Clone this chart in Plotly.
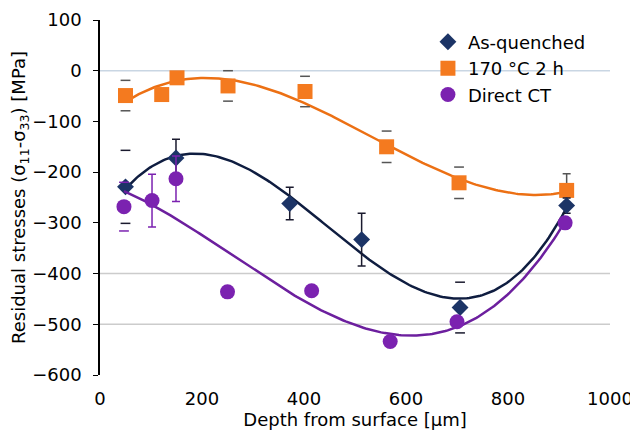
import numpy as np
import plotly.graph_objects as go

# ---- data ----
x_aq = [50, 149, 372, 513, 706, 915]
y_aq = [-229, -172, -262, -333, -467, -266]
e_aq = [72, 37, 32, 52, 50, 15]
stem_aq = [False, True, True, True, False, True]

x_ht = [50, 121, 151, 251, 402, 562, 704, 915]
y_ht = [-49, -47, -14, -30, -41, -150, -221, -236]
e_ht = [30, 0, 0, 30, 30, 31, 31, 33]
stem_ht = [False, False, False, False, False, False, False, True]

x_ct = [47, 102, 149, 250, 415, 569, 700, 912]
y_ct = [-268, -256, -213, -436, -434, -534, -495, -300]
e_ct = [48, 52, 45, 0, 0, 0, 0, 10]
stem_ct = [False, True, True, False, False, False, False, True]

names = ["As-quenched", "170 °C 2 h", "Direct CT"]
grid_y = [0, -400, -500]

FONT = "DejaVu Sans"
C_AQ, L_AQ = "#1c3466", "#0f1d40"
C_HT, L_HT = "#f47a1f", "#ec7014"
C_CT, L_CT = "#7b22b0", "#6c1f9e"

fig = go.Figure()

def add_series(x, y, e, stem, name, mcol, lcol, symbol, size, ecol, rank):
    x = np.array(x, float); y = np.array(y, float); e = np.array(e, float)
    stem = np.array(stem)
    # trend line (cubic polynomial fit)
    p = np.polyfit(x, y, 3)
    xs = np.linspace(x.min(), x.max(), 200)
    fig.add_trace(go.Scatter(x=xs, y=np.polyval(p, xs), mode="lines",
                             line=dict(color=lcol, width=2.5), showlegend=False,
                             hoverinfo="skip"))
    # caps without stems
    cm = (~stem) & (e > 0)
    fig.add_trace(go.Scatter(x=np.concatenate([x[cm], x[cm]]),
                             y=np.concatenate([y[cm] + e[cm], y[cm] - e[cm]]),
                             mode="markers", showlegend=False, hoverinfo="skip",
                             marker=dict(symbol="line-ew", size=7,
                                         line=dict(color=ecol, width=1.5))))
    # markers with error bars
    fig.add_trace(go.Scatter(x=x, y=y, mode="markers", name=name, legendrank=rank,
                             marker=dict(symbol=symbol, size=size, color=mcol,
                                         line=dict(width=0)),
                             error_y=dict(type="data", array=np.where(stem, e, 0),
                                          color=ecol, thickness=1.5, width=4)))

add_series(x_ht, y_ht, e_ht, stem_ht, names[1], C_HT, L_HT, "square", 15, "#555555", 2)
add_series(x_aq, y_aq, e_aq, stem_aq, names[0], C_AQ, L_AQ, "diamond", 13, "#1a1a2e", 1)
add_series(x_ct, y_ct, e_ct, stem_ct, names[2], C_CT, L_CT, "circle", 15, C_CT, 3)

for v in grid_y:
    fig.add_hline(y=v, layer="below",
                  line=dict(color="#c9d6e3" if v == 0 else "#cccccc", width=1.5))

# page body has an 8px margin, so the figure is 8px smaller and offset
fig.update_layout(
    width=630, height=429,
    margin=dict(l=92, r=28, t=12, b=62),
    paper_bgcolor="white", plot_bgcolor="white",
    font=dict(family=FONT, size=18, color="black"),
    legend=dict(x=0.643, y=0.99, xanchor="left", yanchor="top",
                traceorder="normal", bgcolor="rgba(0,0,0,0)",
                font=dict(size=18), itemwidth=30, tracegroupgap=0),
    xaxis=dict(range=[0, 1000], dtick=200, showgrid=False, zeroline=False,
               showline=False, ticks="", ticklabelstandoff=11, automargin=False,
               ticklabeloverflow="allow",
               title=dict(text="Depth from surface [µm]", standoff=0,
                          font=dict(size=18))),
    yaxis=dict(range=[-600, 100], dtick=100, showgrid=False, zeroline=False,
               showline=True, linecolor="black", linewidth=1.5,
               ticks="outside", ticklen=5, tickcolor="black",
               ticklabelstandoff=8, automargin=False,
               title=dict(text="Residual stresses (σ<sub>11</sub>-σ<sub>33</sub>) [MPa]",
                          standoff=0, font=dict(size=18))),
)

fig.write_html("out.html")
